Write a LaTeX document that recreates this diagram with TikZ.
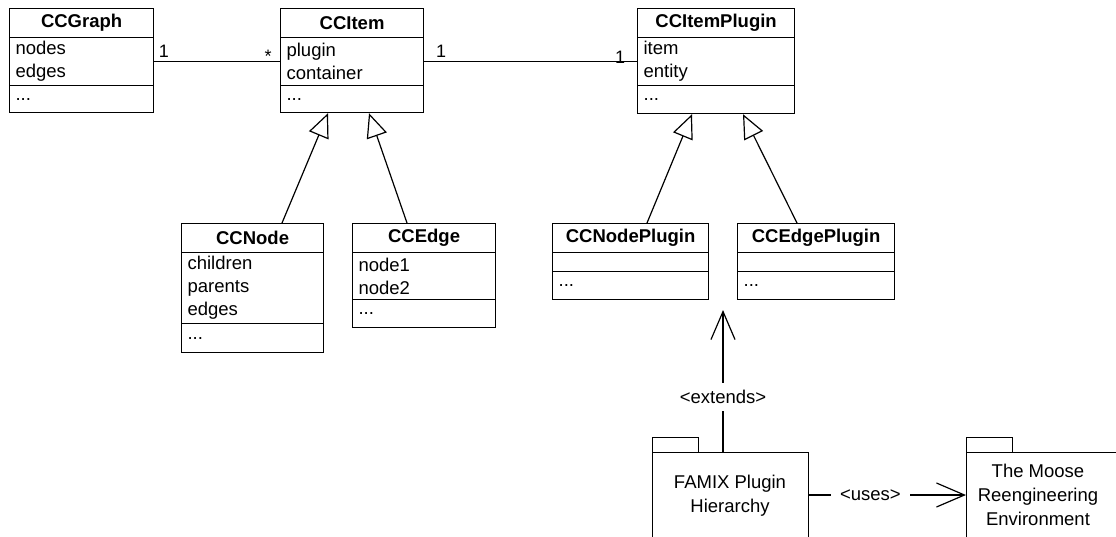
\documentclass[tikz,border=0pt]{standalone}
\usepackage{fontspec}
\setmainfont{Liberation Sans}
\usetikzlibrary{arrows.meta,calc}
\newcommand\umlcls[9]{%
  \pgfmathsetmacro\clsw{#3-#2}%
  \pgfmathsetmacro\clstw{#3-#2-12}%
  \pgfmathsetmacro\clsha{#5-#4}%
  \pgfmathsetmacro\clshb{#6-#5}%
  \pgfmathsetmacro\clshc{#7-#6}%
  \node[clstitle, minimum width=\clsw pt, minimum height=\clsha pt] (#1) at (#2,#4) {#8};
  \node[clsbox, text width=\clstw pt, minimum height=\clshb pt] (#1-a) at (#2,#5) {#9};
  \node[clsbox, text width=\clstw pt, minimum height=\clshc pt] (#1-o) at (#2,#6) {...};
}
\tikzset{
  clstitle/.style={draw, line width=1.2pt, anchor=north west, inner sep=0pt,
    font=\fontsize{18.5}{22}\selectfont\bfseries},
  clsbox/.style={draw, line width=1.2pt, anchor=north west, inner xsep=6pt, inner ysep=0pt,
    align=left, font=\fontsize{18.5}{23}\selectfont},
  mult/.style={inner sep=0pt, font=\fontsize{18}{20}\selectfont},
  inh/.style={-{Triangle[open,length=24pt,width=21pt]}, line width=1.2pt},
  dep/.style={-{Straight Barb[length=28pt,width=24pt]}, line width=1.2pt},
  lbl/.style={fill=white, inner xsep=9pt, inner ysep=7pt, font=\fontsize{18.5}{22}\selectfont},
  pkgtab/.style={draw, line width=1.2pt, anchor=north west, inner sep=0pt,
    minimum width=46pt, minimum height=15pt},
  pkgbody/.style={draw, line width=1.2pt, anchor=north west, inner sep=0pt,
    minimum width=156pt, minimum height=130pt},
  pkgtext/.style={align=center, inner sep=0pt, font=\fontsize{18.5}{24}\selectfont}
}
\begin{document}
\begin{tikzpicture}[x=1pt,y=-1pt,line width=1.2pt]
\useasboundingbox (0,0) rectangle (1116,536);
\clip (0,0) rectangle (1116,536);
% classes
\umlcls{graph}{9}{153}{8}{37}{85}{112}{CCGraph}{nodes\\edges}
\umlcls{item}{280}{423}{8}{37}{85}{112}{CCItem}{plugin\\container}
\umlcls{iplug}{637}{794}{8}{37}{85}{113}{CCItemPlugin}{item\\entity}
\umlcls{cnode}{181}{323}{223}{252}{323}{352}{CCNode}{children\\parents\\edges}
\umlcls{cedge}{352}{495}{223}{252}{299}{327}{CCEdge}{node1\\node2}
\umlcls{nplug}{552}{708}{223}{252}{271}{299}{CCNodePlugin}{}
\umlcls{eplug}{737}{894}{223}{252}{271}{299}{CCEdgePlugin}{}
% associations
\draw (graph-a.east) -- (item-a.west);
\draw (item-a.east) -- (iplug-a.west);
\node[mult] (m1) at (164,51) {1};
\node[mult] (m2) at (268,56) {*};
\node[mult] (m3) at (441,51) {1};
\node[mult] (m4) at (620,57) {1};
% generalizations
\draw[inh] ($(cnode.north west)+(101,0)$) -- ($(item-o.south west)+(48,0)$);
\draw[inh] ($(cedge.north west)+(55,0)$) -- ($(item-o.south west)+(89,0)$);
\draw[inh] ($(nplug.north west)+(95,0)$) -- ($(iplug-o.south west)+(55,0)$);
\draw[inh] ($(eplug.north west)+(60,0)$) -- ($(iplug-o.south west)+(106,0)$);
% packages
\node[pkgtab] (famixtab) at (652,437) {};
\node[pkgbody] (famix) at (652,452) {};
\node[pkgtext] (famixtxt) at (730,496) {FAMIX Plugin\\Hierarchy};
\node[pkgtab] (moosetab) at (966,437) {};
\node[pkgbody, minimum width=200pt] (moose) at (966,452) {};
\node[pkgtext] (moosetxt) at (1038,495) {The Moose\\Reengineering\\Environment};
% dependencies
\coordinate (exttip) at (723,310);
\draw[dep] ($(famix.north west)+(71,0)$) -- node[lbl, pos=0.387] (extlbl) {<extends>} (exttip);
\draw[dep] ($(famix.north east)+(0,43)$) -- node[lbl, pos=0.39] (useslbl) {<uses>} ($(moose.north west)+(0,43)$);
\end{tikzpicture}
\end{document}
